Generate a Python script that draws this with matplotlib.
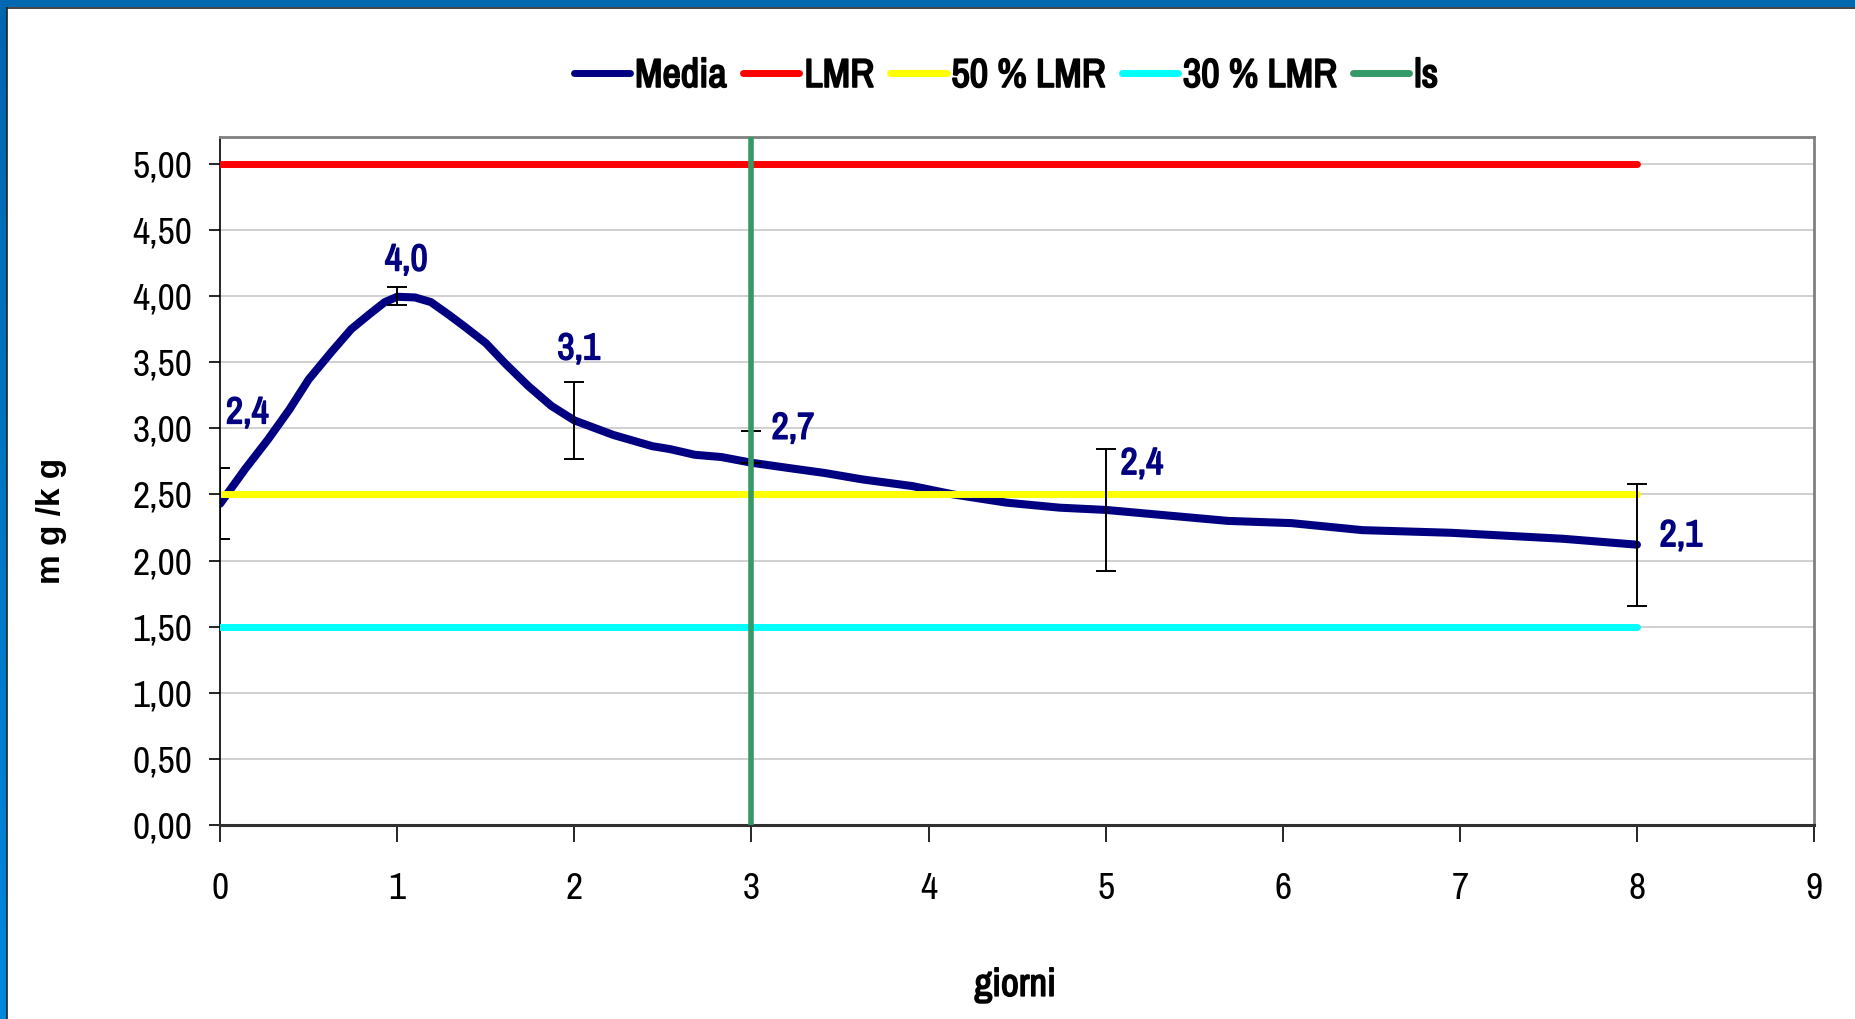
import numpy as np
import matplotlib.pyplot as plt
import matplotlib.patheffects as pe
from matplotlib.ticker import FuncFormatter, MultipleLocator
from matplotlib.lines import Line2D
from matplotlib.colors import LinearSegmentedColormap

# Media curve (giorni, mg/kg)
curve_x = [0.0, 0.14, 0.27, 0.39, 0.50, 0.63, 0.74, 0.84, 0.93, 1.0, 1.10, 1.19,
           1.29, 1.38, 1.50, 1.61, 1.74, 1.87, 2.0, 2.12, 2.22, 2.44, 2.54, 2.68,
           2.83, 3.0, 3.21, 3.41, 3.63, 3.91, 4.14, 4.44, 4.74, 5.0, 5.69, 6.05,
           6.45, 6.95, 7.58, 8.0]
curve_y = [2.43, 2.69, 2.915, 3.14, 3.37, 3.58, 3.75, 3.86, 3.955, 3.995, 3.99, 3.955,
           3.86, 3.77, 3.645, 3.49, 3.32, 3.17, 3.06, 3.0, 2.95, 2.865, 2.843, 2.80,
           2.783, 2.74, 2.70, 2.663, 2.613, 2.563, 2.50, 2.438, 2.40, 2.383, 2.30, 2.283,
           2.23, 2.21, 2.165, 2.12]

# sampled days: mean and error bar extents (below / above)
days = [0, 1, 2, 3, 5, 8]
means = [2.43, 4.00, 3.06, 2.74, 2.38, 2.12]
err_low = [0.27, 0.07, 0.29, 0.0, 0.46, 0.46]
err_high = [0.27, 0.07, 0.29, 0.24, 0.46, 0.46]

lmr = 5.0
lmr_50 = 2.5
lmr_30 = 1.5
ls_day = 3
ref_days = [0, 8]

navy = '#000080'
plt.rcParams['font.family'] = ['Archivo Narrow', 'Liberation Sans', 'DejaVu Sans']


def heavy(color, w=1.1):
    # narrow font has no bold face here, so thicken the glyphs with a stroke
    return [pe.withStroke(linewidth=w, foreground=color)]


fig = plt.figure(figsize=(18.56, 10.19), dpi=100)

# blue slide frame at top and left
bg = fig.add_axes([0, 0, 1, 1], zorder=-5)
bg.set_xlim(0, 1856)
bg.set_ylim(1019, 0)
bg.axis('off')
grad = np.linspace(0, 1, 256).reshape(-1, 1)
cmap = LinearSegmentedColormap.from_list('frame', ['#0066ae', '#0088dc'])
bg.imshow(grad, cmap=cmap, aspect='auto', extent=(0, 7, 1019, 0))
bg.fill_between([0, 1856], 0, 7, color='#0068b0', lw=0)
bg.plot([7.5, 7.5], [7.5, 1019], color='#222222', lw=1.2)
bg.plot([7.5, 1856], [7.5, 7.5], color='#222222', lw=1.2)

ax = fig.add_axes([0.1186, 0.1904, 0.8588, 0.6747])

ax.plot(curve_x, curve_y, color=navy, lw=5.8, solid_capstyle='round', zorder=3, label='Media')
ax.plot(ref_days, [lmr, lmr], color='#ff0000', lw=5, solid_capstyle='round', zorder=4, label='LMR')
ax.plot(ref_days, [lmr_50, lmr_50], color='#ffff00', lw=5, solid_capstyle='round', zorder=4, label='50 % LMR')
ax.plot(ref_days, [lmr_30, lmr_30], color='#00ffff', lw=5, solid_capstyle='round', zorder=4, label='30 % LMR')
ax.errorbar(days, means, yerr=[err_low, err_high], fmt='none', ecolor='black', elinewidth=1.4,
            capsize=7, capthick=1.4, zorder=5)
ax.axvline(ls_day, color='#339966', lw=4, zorder=6, label='ls')

label_offsets = [(19.6, 65.4), (6.5, 26), (3.2, 51.5), (29.9, 24.8), (26.1, 33.6), (31.7, 6.5)]
for d, m, off in zip(days, means, label_offsets):
    ax.annotate(f"{m:.1f}".replace('.', ','), (d, m), xytext=off, textcoords='offset points',
                ha='center', va='center', color=navy, fontsize=27, zorder=7,
                path_effects=heavy(navy))

ax.set_xlim(0, 9)
ax.set_ylim(0, 5.2)
ax.xaxis.set_major_locator(MultipleLocator(1))
ax.yaxis.set_major_locator(MultipleLocator(0.5))
ax.yaxis.set_major_formatter(FuncFormatter(lambda v, _: f"{v:.2f}".replace('.', ',')))
ax.grid(axis='y', color='#c8c8c8', lw=1.2, zorder=0)
ax.set_axisbelow(True)
ax.tick_params(axis='y', length=8, width=1.2, pad=12, labelsize=27)
ax.tick_params(axis='x', length=12, width=1.2, pad=22, labelsize=27)
for s in ['top', 'right']:
    ax.spines[s].set_color('#808080')
    ax.spines[s].set_linewidth(2)
ax.spines['left'].set_linewidth(1.2)
ax.spines['bottom'].set_color('#303030')
ax.spines['bottom'].set_linewidth(2.2)

fig.text(0.547, 0.033, 'giorni', ha='center', va='center', fontsize=28,
         path_effects=heavy('black'))
fig.text(0.0275, 0.489, 'm g /k g', rotation=90, ha='center', va='center', fontsize=24,
         fontweight='bold', family=['Liberation Sans', 'DejaVu Sans'])

handles = [Line2D([], [], color=c, lw=5, solid_capstyle='round')
           for c in [navy, '#ff0000', '#ffff00', '#00ffff', '#339966']]
leg = fig.legend(handles, ['Media', 'LMR', '50 % LMR', '30 % LMR', 'ls'], loc='center',
                 bbox_to_anchor=(0.542, 0.926), ncol=5, frameon=False, handlelength=1.4,
                 handletextpad=0.12, columnspacing=0.4, prop={'size': 29})
for t in leg.get_texts():
    t.set_path_effects(heavy('black', 1.3))

fig.savefig('out.png', dpi=100)
